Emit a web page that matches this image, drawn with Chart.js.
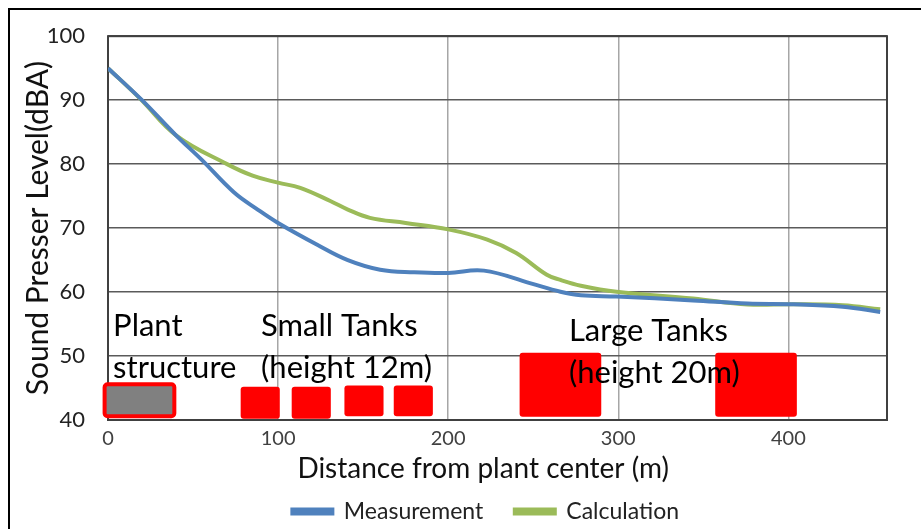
<!DOCTYPE html>
<html>
<head>
<meta charset="utf-8">
<script src="https://cdn.jsdelivr.net/npm/chart.js@4"></script>
<style>
  body { margin: 0; background: #fff; }
  #wrap { position: relative; width: 921px; height: 529px; }
</style>
</head>
<body>
<div id="wrap"><canvas id="noiseChart"></canvas></div>
<script>
// distances (m) and levels (dBA)
const measDist = [0, 20, 40, 55, 74, 88, 100, 123, 141, 160, 180, 200, 221, 248, 266, 278, 299, 344, 376, 403, 432, 454];
const measLevel = [95, 90, 84.5, 80.7, 75.6, 72.9, 70.8, 67.4, 65, 63.5, 63.1, 63, 63.35, 61.4, 60.05, 59.5, 59.3, 58.7, 58.2, 58.1, 57.7, 56.9];
const calcDist = [0, 19, 40, 70, 85, 100, 113, 131, 141, 154, 175, 200, 223, 240, 258, 266, 278, 299, 344, 376, 403, 432, 454];
const calcLevel = [95, 90.2, 84.5, 80, 78.2, 77.1, 76.3, 74.2, 72.9, 71.6, 70.8, 69.8, 68.2, 66.1, 62.7, 61.9, 61, 60.05, 59, 58.05, 58.1, 57.95, 57.3];

// structures along the ground: start/end distance and level span
const structFrom = [-2, 78, 108, 139, 168, 242, 357];
const structTo = [39, 101, 131, 162, 191, 290, 405];
const structLow = [40.6, 40.2, 40.2, 40.6, 40.6, 40.5, 40.5];
const structHigh = [45.6, 45.2, 45.2, 45.4, 45.4, 50.5, 50.5];

const noteText = ["Plant", "structure", "Small Tanks", "(height 12m)", "Large Tanks", "(height 20m)"];
const noteDist = [3, 3, 90, 90, 271, 271];
const noteLevel = [53.1, 46.6, 53.1, 46.6, 52.3, 45.8];

const FONT = "Lato, 'Open Sans', sans-serif";
const legendGap = [4, 4]; // trailing spaces after each legend entry

const toPoints = (xs, ys) => xs.map((x, i) => ({ x: x, y: ys[i] }));

const extras = {
  id: "extras",
  beforeDatasetsDraw(chart) {
    const { ctx, chartArea: a, scales: { x, y } } = chart;
    ctx.save();
    // plot border
    ctx.strokeStyle = "#404040";
    ctx.lineWidth = 2;
    ctx.strokeRect(a.left, a.top, a.right - a.left, a.bottom - a.top);

    // tanks and plant block
    structFrom.forEach((x0, i) => {
      const px0 = x.getPixelForValue(x0);
      const px1 = x.getPixelForValue(structTo[i]);
      const py0 = y.getPixelForValue(structHigh[i]);
      const py1 = y.getPixelForValue(structLow[i]);
      ctx.beginPath();
      ctx.roundRect(px0, py0, px1 - px0, py1 - py0, 3);
      if (i === 0) {
        ctx.fillStyle = "#808080";
        ctx.fill();
        ctx.strokeStyle = "#ff0000";
        ctx.lineWidth = 4;
        ctx.stroke();
      } else {
        ctx.fillStyle = "#ff0000";
        ctx.fill();
      }
    });

    // labels
    ctx.fillStyle = "#000";
    ctx.font = "31px " + FONT;
    ctx.textBaseline = "alphabetic";
    noteText.forEach((t, i) => {
      ctx.fillText(t, x.getPixelForValue(noteDist[i]), y.getPixelForValue(noteLevel[i]));
    });
    ctx.restore();
  },
  afterDraw(chart) {
    const ctx = chart.ctx;
    ctx.save();
    ctx.strokeStyle = "#000";
    ctx.lineWidth = 2;
    ctx.beginPath();
    ctx.moveTo(9, 529);
    ctx.lineTo(9, 9);
    ctx.lineTo(921, 9);
    ctx.stroke();
    ctx.restore();
  }
};

new Chart(document.getElementById("noiseChart"), {
  type: "line",
  data: {
    datasets: [
      {
        label: "Measurement",
        data: toPoints(measDist, measLevel),
        borderColor: "#4f81bd",
        backgroundColor: "#4f81bd",
        borderWidth: 4,
        pointRadius: 0,
        tension: 0.4
      },
      {
        label: "Calculation",
        data: toPoints(calcDist, calcLevel),
        borderColor: "#9bbb59",
        backgroundColor: "#9bbb59",
        borderWidth: 4,
        pointRadius: 0,
        tension: 0.4
      }
    ]
  },
  options: {
    responsive: true,
    maintainAspectRatio: false,
    animation: false,
    layout: { padding: { top: 36, left: 24, right: 34, bottom: -4 } },
    plugins: {
      tooltip: { enabled: false },
      legend: {
        position: "bottom",
        fullSize: false,
        labels: {
          boxWidth: 40,
          boxHeight: 4,
          padding: 8,
          color: "#222",
          font: { family: FONT, size: 23 },
          generateLabels(chart) {
            const items = Chart.defaults.plugins.legend.labels.generateLabels(chart);
            items.forEach((it, i) => { it.text = it.text + " ".repeat(legendGap[i]); });
            return items;
          }
        }
      }
    },
    scales: {
      x: {
        type: "linear",
        min: 0,
        max: 458,
        afterFit(scale) { scale.height = 72; },
        border: { display: false },
        grid: { color: "#a6a6a6", lineWidth: 1.5, drawTicks: false },
        ticks: {
          stepSize: 100,
          includeBounds: false,
          padding: 7,
          color: "#404040",
          font: { family: FONT, size: 20 }
        },
        title: {
          display: true,
          text: "Distance from plant center (m)    ",
          color: "#111",
          padding: { top: 9, bottom: 9 },
          font: { family: FONT, size: 28, lineHeight: 1 }
        }
      },
      y: {
        min: 40,
        max: 100,
        afterFit(scale) { scale.width = 84; },
        border: { display: false },
        grid: { color: "#5a5a5a", lineWidth: 1.5, drawTicks: false },
        ticks: {
          stepSize: 10,
          padding: 23,
          color: "#222",
          font: { family: FONT, size: 22 }
        },
        title: {
          display: true,
          text: "Sound Presser Level(dBA)",
          color: "#111",
          padding: { top: 0, bottom: 0 },
          font: { family: FONT, size: 30, lineHeight: 0.95 }
        }
      }
    }
  },
  plugins: [extras]
});
</script>
</body>
</html>
